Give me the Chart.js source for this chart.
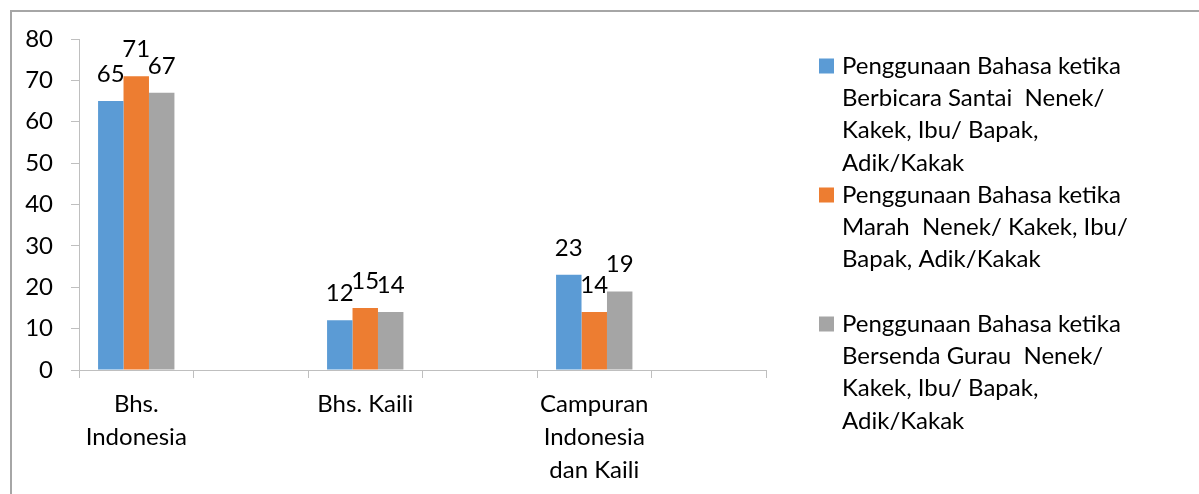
<!DOCTYPE html>
<html>
<head>
<meta charset="utf-8">
<script src="https://cdn.jsdelivr.net/npm/chart.js@4/dist/chart.umd.min.js"></script>
<style>
  html, body { margin: 0; padding: 0; background: #fff; overflow: hidden; }
  #frame {
    position: absolute; left: 10px; top: 10px; width: 1300px; height: 600px;
    border-left: 2px solid #a6a6a6; border-top: 2px solid #a6a6a6;
  }
  canvas { position: absolute; left: 0; top: 0; }
</style>
</head>
<body>
<div id="frame"></div>
<canvas id="chart" width="1199" height="494"></canvas>
<script>
const FONT_FAMILY = 'Lato';
const FONT_SIZE = 24;

const categories = [
    ['Bhs.', 'Indonesia'],
    '',
    'Bhs. Kaili',
    '',
    ['Campuran', 'Indonesia', 'dan Kaili'],
    ''
];

const santaiValues = [65, null, 12, null, 23, null];
const marahValues = [71, null, 15, null, 14, null];
const gurauValues = [67, null, 14, null, 19, null];

const santaiLabel = ['Penggunaan Bahasa ketika', 'Berbicara Santai  Nenek/', 'Kakek, Ibu/ Bapak,', 'Adik/Kakak'];
const marahLabel = ['Penggunaan Bahasa ketika', 'Marah  Nenek/ Kakek, Ibu/', 'Bapak, Adik/Kakak'];
const gurauLabel = ['Penggunaan Bahasa ketika', 'Bersenda Gurau  Nenek/', 'Kakek, Ibu/ Bapak,', 'Adik/Kakak'];

const yTicks = [0, 10, 20, 30, 40, 50, 60, 70, 80];

const AXIS_COLOR = '#bfbfbf';

// values written above each bar
const barValues = {
    id: 'barValues',
    afterDatasetsDraw(chart) {
        const { ctx } = chart;
        ctx.save();
        ctx.font = `${FONT_SIZE}px ${FONT_FAMILY}`;
        ctx.fillStyle = '#000';
        ctx.textAlign = 'center';
        ctx.textBaseline = 'alphabetic';
        chart.data.datasets.forEach((ds, i) => {
            chart.getDatasetMeta(i).data.forEach((bar, j) => {
                const v = ds.data[j];
                if (v === null || v === undefined) return;
                ctx.fillText(String(v), bar.x, bar.y - 19);
            });
        });
        ctx.restore();
    }
};

// legend on the right, with wrapped lines
const sideLegend = {
    id: 'sideLegend',
    afterDraw(chart) {
        const { ctx } = chart;
        const left = chart.chartArea.right + 53;
        const top = 66;
        const slot = 129;
        const lineH = 32.3;
        ctx.save();
        ctx.font = `${FONT_SIZE}px ${FONT_FAMILY}`;
        ctx.textBaseline = 'middle';
        ctx.textAlign = 'left';
        chart.data.datasets.forEach((ds, i) => {
            const y = top + i * slot;
            ctx.fillStyle = ds.backgroundColor;
            ctx.fillRect(left, y - 7.5, 15, 15);
            ctx.fillStyle = '#000';
            ds.label.forEach((line, k) => {
                ctx.fillText(line, left + 23, y + k * lineH);
            });
        });
        ctx.restore();
    }
};

new Chart(document.getElementById('chart').getContext('2d'), {
    type: 'bar',
    data: {
        labels: categories,
        datasets: [
            { label: santaiLabel, data: santaiValues, backgroundColor: '#5b9bd5' },
            { label: marahLabel, data: marahValues, backgroundColor: '#ed7d31' },
            { label: gurauLabel, data: gurauValues, backgroundColor: '#a5a5a5' }
        ]
    },
    plugins: [barValues, sideLegend],
    options: {
        responsive: false,
        animation: false,
        devicePixelRatio: 1,
        layout: { padding: { left: 0, top: 39, right: 433, bottom: 0 } },
        datasets: {
            bar: { categoryPercentage: 0.667, barPercentage: 1, borderWidth: 0 }
        },
        plugins: {
            legend: { display: false },
            tooltip: { enabled: false }
        },
        scales: {
            x: {
                grid: { drawOnChartArea: false, drawTicks: true, tickLength: 8, color: AXIS_COLOR, offset: true },
                border: { color: AXIS_COLOR, width: 1 },
                ticks: {
                    color: '#000',
                    font: { family: FONT_FAMILY, size: FONT_SIZE, lineHeight: 1.375 },
                    padding: 10,
                    autoSkip: false,
                    maxRotation: 0,
                    minRotation: 0
                },
                afterFit(scale) { scale.height = 124; }
            },
            y: {
                min: 0,
                max: 80,
                afterBuildTicks(scale) { scale.ticks = yTicks.map(v => ({ value: v })); },
                grid: { drawOnChartArea: false, drawTicks: true, tickLength: 8, color: AXIS_COLOR },
                border: { color: AXIS_COLOR, width: 1 },
                ticks: {
                    color: '#000',
                    font: { family: FONT_FAMILY, size: FONT_SIZE },
                    padding: 18
                },
                afterFit(scale) { scale.width = 79; }
            }
        }
    }
});
</script>
</body>
</html>
